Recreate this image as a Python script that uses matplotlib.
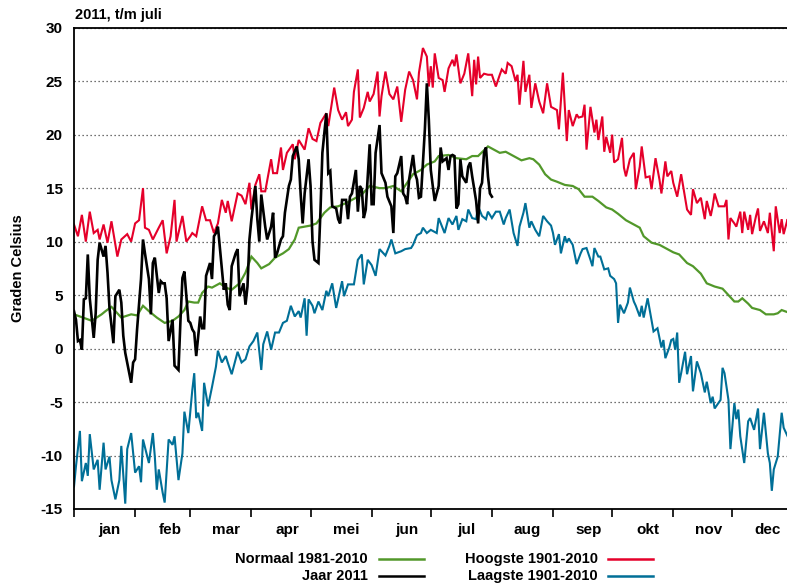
import matplotlib
matplotlib.use("Agg")
import matplotlib.pyplot as plt
from matplotlib.lines import Line2D

plt.rcParams["font.family"] = ["Liberation Sans", "DejaVu Sans"]
plt.rcParams["font.weight"] = "bold"
plt.rcParams["axes.unicode_minus"] = False

# maanden (dag van het jaar waarop de maand begint)
months = ["jan", "feb", "mar", "apr", "mei", "jun", "jul", "aug", "sep", "okt", "nov", "dec"]
month_start = [0, 31, 59, 90, 120, 151, 181, 212, 243, 273, 304, 334]

# (dag, graden)
hoogste = [
    (0, 11.6), (2, 10.5), (4, 12.5), (6, 10.0), (8, 12.8), (10, 10.8), (12, 11.1), (13, 10.2),
    (15, 11.6), (17, 9.9), (19, 11.9), (22, 8.6), (24, 10.2), (27, 10.7), (29, 10.0), (31, 11.7),
    (33, 12.0), (35, 15.0), (36, 11.3), (38, 11.1), (40, 10.2), (43, 11.3), (45, 12.0), (47, 8.9),
    (49, 10.5), (51, 13.9), (52, 10.0), (55, 12.4), (57, 10.0), (59, 10.5), (60, 10.8), (62, 10.5),
    (65, 13.3), (67, 12.0), (69, 12.0), (71, 10.8), (73, 11.7), (75, 13.9), (77, 12.7), (78, 13.8),
    (80, 11.9), (83, 14.5), (85, 14.3), (87, 13.5), (89, 15.5), (90, 13.0), (92, 15.3), (94, 16.3),
    (95, 14.7), (97, 14.7), (100, 17.7), (101, 16.4), (103, 16.4), (105, 18.8), (106, 16.7),
    (108, 18.3), (111, 19.1), (112, 17.7), (114, 19.5), (117, 18.6), (119, 20.6), (121, 19.6),
    (123, 19.4), (125, 21.1), (128, 22.0), (129, 20.8), (132, 24.4), (134, 22.3), (136, 21.4),
    (138, 22.1), (139, 20.8), (141, 21.4), (142, 24.0), (144, 26.1), (145, 21.6), (147, 22.5),
    (149, 24.0), (150, 23.1), (152, 23.8), (154, 25.9), (155, 21.7), (156, 23.6), (158, 25.9),
    (160, 23.8), (162, 23.3), (164, 24.5), (166, 21.2), (168, 24.2), (170, 25.9), (172, 25.1),
    (174, 23.3), (175, 25.8), (177, 28.1), (179, 27.3), (180, 24.5), (181, 26.4), (182, 24.4),
    (183, 27.6), (185, 25.3), (187, 25.1), (188, 24.0), (190, 26.2), (192, 27.0), (193, 26.4),
    (194, 27.5), (196, 24.8), (198, 25.7), (200, 27.6), (202, 23.6), (203, 27.0), (204, 24.7),
    (205, 27.3), (206, 25.3), (208, 25.7), (210, 25.6), (212, 25.6), (214, 24.5), (216, 25.6),
    (217, 26.1), (219, 25.7), (220, 26.7), (222, 26.4), (224, 25.0), (225, 25.6), (226, 22.8),
    (228, 26.9), (229, 24.0), (231, 25.6), (232, 22.5), (234, 24.8), (236, 23.1), (238, 22.0),
    (240, 24.8), (242, 22.6), (243, 22.5), (245, 22.3), (246, 20.5), (248, 25.8), (250, 19.4),
    (251, 22.3), (253, 20.8), (255, 21.9), (256, 21.6), (258, 21.7), (259, 22.8), (260, 18.6),
    (262, 22.6), (264, 20.2), (265, 21.4), (266, 19.5), (268, 21.7), (269, 18.4), (270, 19.8),
    (272, 18.3), (273, 20.0), (274, 17.4), (276, 17.7), (278, 19.7), (279, 16.9), (280, 16.1),
    (282, 17.7), (284, 18.3), (285, 14.9), (287, 17.0), (288, 18.9), (290, 16.0), (292, 16.1),
    (293, 14.9), (295, 17.8), (297, 15.8), (298, 14.5), (300, 17.5), (301, 16.1), (303, 16.6),
    (304, 15.5), (306, 14.2), (308, 16.3), (309, 15.2), (311, 13.0), (313, 12.5), (314, 14.9),
    (316, 13.6), (318, 14.1), (320, 12.1), (321, 13.8), (323, 12.4), (324, 13.3), (325, 14.5),
    (327, 13.3), (330, 13.3), (331, 13.9), (332, 10.2), (333, 12.2), (335, 11.7), (336, 11.4),
    (338, 12.8), (339, 10.8), (340, 12.8), (342, 11.1), (343, 12.5), (344, 10.7), (346, 12.4),
    (347, 13.1), (348, 11.0), (350, 11.9), (352, 10.8), (353, 12.7), (355, 9.1), (356, 13.3),
    (358, 10.8), (359, 12.1), (360, 10.7), (362, 12.1), (364, 11.0),
]

laagste = [
    (0, -12.9), (1, -11.0), (3, -7.7), (4, -12.4), (6, -10.7), (7, -11.9), (8, -8.0), (10, -11.3),
    (12, -10.4), (13, -13.2), (15, -8.8), (16, -11.3), (18, -10.1), (19, -12.3), (21, -14.1),
    (23, -12.3), (24, -9.1), (26, -14.5), (27, -9.4), (29, -7.9), (31, -11.6), (33, -11.0),
    (34, -12.5), (35, -8.5), (38, -10.7), (40, -7.9), (41, -10.1), (42, -13.2), (43, -11.3),
    (45, -13.5), (46, -14.4), (48, -8.5), (50, -9.0), (51, -8.2), (53, -12.3), (55, -9.8),
    (56, -5.9), (58, -7.9), (60, -3.9), (61, -2.3), (62, -6.5), (63, -6.0), (65, -7.7), (66, -3.2),
    (68, -5.4), (70, -3.6), (72, -1.7), (73, -0.2), (75, -1.3), (77, -0.7), (78, -1.3), (80, -2.4),
    (83, -0.3), (85, -1.3), (87, -1.0), (89, 0.2), (91, 0.7), (93, 1.5), (95, -2.0), (96, 0.4),
    (98, 1.6), (100, -0.1), (102, 1.5), (104, 1.5), (106, 2.4), (108, 2.6), (110, 4.0), (112, 3.0),
    (114, 3.5), (115, 2.9), (117, 4.7), (118, 1.2), (119, 4.6), (121, 4.0), (122, 3.3), (124, 4.4),
    (126, 3.6), (128, 5.4), (129, 4.9), (131, 6.1), (133, 3.8), (136, 6.3), (137, 4.9), (139, 6.0),
    (142, 6.0), (144, 8.3), (146, 8.8), (147, 6.0), (149, 8.3), (151, 7.8), (153, 6.8), (155, 9.3),
    (158, 8.7), (160, 9.6), (161, 10.2), (163, 8.9), (166, 9.1), (168, 9.3), (171, 9.4), (172, 9.7),
    (174, 10.6), (176, 10.8), (177, 11.3), (179, 10.8), (181, 11.1), (182, 11.0), (184, 10.8),
    (185, 12.2), (188, 10.8), (190, 12.2), (192, 11.6), (194, 12.4), (195, 11.1), (197, 12.1),
    (199, 11.9), (200, 13.0), (202, 12.2), (204, 12.1), (205, 13.3), (207, 12.4), (209, 12.1),
    (210, 12.8), (212, 12.2), (214, 12.8), (216, 12.8), (218, 11.6), (219, 12.2), (221, 13.0),
    (223, 10.8), (225, 9.6), (226, 11.4), (228, 12.7), (229, 13.6), (231, 11.3), (232, 11.9),
    (234, 11.1), (236, 10.5), (238, 12.4), (240, 11.9), (242, 11.5), (243, 10.8), (244, 9.7),
    (246, 10.7), (247, 8.9), (249, 10.5), (250, 9.9), (251, 10.3), (253, 9.7), (255, 7.9),
    (257, 8.9), (258, 9.3), (260, 9.4), (262, 8.3), (263, 7.7), (264, 9.4), (266, 8.6), (267, 8.6),
    (269, 7.4), (271, 7.5), (272, 6.8), (274, 6.5), (275, 6.1), (276, 2.4), (277, 4.1), (279, 3.3),
    (281, 4.3), (282, 5.7), (284, 4.4), (285, 4.0), (287, 3.0), (288, 4.0), (289, 2.9), (291, 4.7),
    (293, 2.6), (294, 1.6), (296, 1.9), (298, 0.1), (299, 0.8), (300, -0.9), (302, 0.1), (303, 0.8),
    (304, 0.9), (305, -0.1), (306, 1.5), (307, -3.2), (308, -2.3), (310, -0.3), (311, -2.4),
    (313, -0.7), (314, -4.0), (316, -1.2), (318, -2.3), (320, -4.1), (321, -3.1), (323, -5.1),
    (324, -4.5), (325, -5.6), (328, -4.8), (329, -1.8), (330, -2.3), (332, -4.8), (333, -9.4),
    (335, -5.1), (336, -6.6), (337, -5.7), (338, -8.2), (340, -10.7), (342, -6.8), (343, -6.5),
    (345, -7.6), (347, -5.6), (348, -9.4), (350, -6.0), (352, -9.8), (353, -10.7), (354, -13.3),
    (355, -11.3), (357, -10.1), (359, -6.0), (360, -7.4), (362, -8.2), (364, -9.0),
]

normaal = [
    (0, 3.2), (6, 2.8), (9, 2.6), (14, 3.2), (16, 3.5), (19, 3.9), (22, 3.3), (24, 2.9), (29, 3.2),
    (32, 3.1), (35, 4.0), (38, 3.5), (42, 2.9), (46, 2.4), (50, 2.6), (53, 3.0), (56, 3.6),
    (58, 4.4), (61, 4.3), (63, 4.3), (65, 5.2), (68, 5.8), (70, 5.7), (74, 6.1), (77, 5.7),
    (80, 5.5), (84, 6.1), (87, 7.1), (90, 8.6), (93, 8.0), (95, 7.5), (99, 7.9), (102, 8.5),
    (106, 8.9), (109, 9.3), (112, 10.2), (114, 11.3), (117, 11.4), (120, 11.5), (123, 11.7),
    (127, 12.7), (130, 13.2), (134, 13.3), (138, 13.6), (143, 14.1), (146, 14.4), (150, 15.2),
    (155, 15.0), (158, 15.0), (162, 15.2), (166, 14.7), (169, 15.5), (172, 16.3), (176, 16.7),
    (179, 17.2), (183, 17.5), (185, 18.0), (190, 18.1), (194, 17.8), (199, 17.7), (202, 18.0),
    (205, 18.0), (210, 18.9), (213, 18.6), (216, 18.3), (219, 18.4), (223, 18.0), (227, 17.6),
    (231, 17.8), (233, 17.7), (236, 17.2), (239, 16.3), (242, 15.8), (245, 15.6), (249, 15.3),
    (253, 15.2), (256, 14.9), (259, 14.2), (263, 14.2), (266, 13.8), (270, 13.2), (273, 13.0),
    (276, 12.6), (280, 12.0), (283, 11.7), (287, 11.3), (289, 10.5), (293, 9.9), (297, 9.7),
    (300, 9.4), (304, 9.0), (307, 8.8), (311, 8.0), (314, 7.7), (318, 7.0), (321, 6.1), (325, 5.8),
    (329, 5.6), (332, 5.0), (335, 4.4), (337, 4.4), (339, 4.7), (342, 4.2), (344, 3.8), (348, 3.6),
    (351, 3.2), (355, 3.2), (357, 3.3), (359, 3.6), (362, 3.4), (364, 3.3),
]

jaar2011 = [
    (0, 3.5), (1, 2.7), (2, 0.7), (3, 0.8), (4, -0.1), (5, 4.6), (6, 4.7), (7, 8.8), (8, 4.7),
    (10, 1.0), (11, 3.3), (12, 8.3), (13, 9.9), (15, 8.6), (16, 9.6), (17, 7.1), (18, 3.8),
    (20, 0.5), (21, 4.9), (23, 5.5), (24, 4.3), (25, 1.2), (26, -0.4), (28, -2.3), (29, -3.2),
    (30, -1.3), (31, -1.0), (32, 1.8), (34, 6.5), (35, 10.2), (36, 8.9), (38, 6.5), (39, 3.2),
    (40, 8.0), (41, 8.5), (43, 5.2), (44, 6.3), (45, 6.1), (46, 6.1), (47, 4.7), (48, 0.7),
    (50, 2.7), (51, -1.6), (53, -2.0), (54, 2.6), (55, 6.6), (56, 7.2), (57, 4.9), (58, 2.6),
    (59, 2.4), (60, 1.8), (61, 1.5), (62, -0.7), (64, 3.0), (65, 1.9), (66, 1.9), (67, 6.8),
    (69, 8.0), (70, 6.5), (71, 10.5), (72, 10.8), (73, 11.4), (75, 7.4), (76, 5.5), (77, 6.1),
    (78, 4.1), (79, 3.6), (80, 7.7), (82, 8.9), (83, 9.3), (84, 4.9), (86, 6.1), (87, 4.1),
    (88, 5.8), (89, 10.2), (90, 12.1), (92, 15.2), (93, 12.1), (94, 10.0), (95, 14.4), (97, 11.4),
    (98, 10.2), (100, 11.4), (101, 12.7), (102, 8.5), (103, 8.9), (105, 10.2), (106, 10.5),
    (107, 12.7), (109, 15.2), (110, 15.8), (111, 18.0), (113, 18.9), (114, 17.7), (115, 14.4),
    (116, 11.7), (117, 14.5), (119, 17.7), (120, 15.2), (121, 10.0), (122, 8.3), (124, 8.0),
    (125, 12.7), (126, 18.3), (128, 22.0), (129, 16.4), (130, 16.6), (131, 13.3), (133, 13.1),
    (134, 12.1), (135, 11.7), (136, 13.9), (138, 13.9), (139, 12.1), (140, 14.2), (141, 14.5),
    (143, 16.7), (144, 12.8), (145, 15.2), (146, 14.9), (147, 12.2), (148, 13.0), (150, 19.1),
    (151, 13.5), (152, 13.5), (153, 18.3), (155, 20.9), (156, 16.4), (158, 15.5), (159, 14.2),
    (161, 13.3), (162, 10.8), (163, 16.1), (164, 16.4), (166, 18.0), (167, 14.5), (168, 14.2),
    (169, 13.5), (170, 15.8), (172, 18.1), (173, 16.4), (174, 15.8), (175, 14.1), (176, 14.2),
    (178, 20.5), (179, 24.8), (180, 21.4), (181, 16.7), (182, 15.2), (183, 13.8), (185, 15.2),
    (186, 18.8), (187, 17.5), (189, 17.8), (190, 16.7), (191, 18.0), (192, 18.1), (193, 18.0),
    (194, 13.1), (195, 13.5), (196, 17.7), (197, 16.1), (199, 15.5), (200, 17.0), (201, 17.4),
    (202, 16.1), (204, 13.8), (205, 11.7), (206, 15.0), (207, 15.5), (208, 18.3), (209, 18.8),
    (210, 16.1), (211, 14.5), (212, 14.2),
]

kleur_normaal = "#52982a"
kleur_jaar = "#000000"
kleur_hoog = "#e5002a"
kleur_laag = "#006f97"

fig = plt.figure(figsize=(7.87, 5.83), dpi=100)
# de grafiek loopt rechts net buiten het plaatje door (december is afgesneden)
ax = fig.add_axes([74 / 787, 1 - 509 / 583, (793.5 - 74) / 787, (509 - 27.7) / 583])

for data, kleur, lw in [
    (normaal, kleur_normaal, 1.6),
    (hoogste, kleur_hoog, 1.5),
    (laagste, kleur_laag, 1.5),
    (jaar2011, kleur_jaar, 1.9),
]:
    x, y = zip(*data)
    ax.plot(x, y, color=kleur, lw=lw, solid_joinstyle="miter")

ax.set_xlim(0, 365)
ax.set_ylim(-15, 30)

ax.set_yticks(range(-15, 31, 5))
ax.tick_params(axis="y", length=0, pad=8, labelsize=11)
ax.yaxis.grid(True, color="#444444", linestyle=(0, (1, 2.2)), linewidth=0.9)
ax.set_axisbelow(True)

# streepjes op de maandgrenzen, namen ertussen
ax.set_xticks(month_start)
ax.set_xticklabels([])
ax.set_xticks([s + 18 for s in month_start], minor=True)
ax.set_xticklabels(months, minor=True)
ax.tick_params(axis="x", which="major", length=6, width=1.2, direction="out")
ax.tick_params(axis="x", which="minor", length=0, pad=10, labelsize=11)

for sp in ax.spines.values():
    sp.set_linewidth(1.3)

fig.text(75 / 787, 1 - 15 / 583, "2011, t/m juli", fontsize=10.5, fontweight="bold",
         ha="left", va="center")
fig.text(18 / 787, 1 - 268 / 583, "Graden Celsius", fontsize=10.5, fontweight="bold",
         rotation=90, ha="center", va="center")

# legenda onder de grafiek, tekst rechts uitgelijnd voor het lijntje
legenda = [
    ("Normaal 1981-2010", kleur_normaal, 368, 379, 424, 559),
    ("Jaar 2011", kleur_jaar, 368, 379, 424, 576),
    ("Hoogste 1901-2010", kleur_hoog, 598, 608, 653, 559),
    ("Laagste 1901-2010", kleur_laag, 598, 608, 653, 576),
]
for tekst, kleur, xt, x0, x1, yy in legenda:
    fig.text(xt / 787, 1 - yy / 583, tekst, fontsize=10.5, fontweight="bold",
             ha="right", va="center")
    fig.add_artist(Line2D([x0 / 787, x1 / 787], [1 - yy / 583, 1 - yy / 583],
                          color=kleur, lw=1.8, transform=fig.transFigure))

fig.savefig("out.png", dpi=100)
